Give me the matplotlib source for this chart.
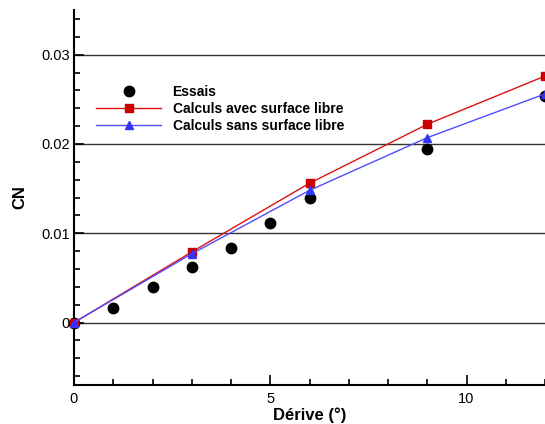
import numpy as np
import matplotlib
matplotlib.use("Agg")
import matplotlib.pyplot as plt
from matplotlib.ticker import MultipleLocator

plt.rcParams['font.family'] = ['Liberation Sans', 'DejaVu Sans']

# measured normal force coefficient vs drift angle
derive_essais = [0, 1, 2, 3, 4, 5, 6, 9, 12]
cn_essais = [0.0, 0.00157, 0.0040, 0.0062, 0.0084, 0.0112, 0.0139, 0.0194, 0.0254]

# computed values, with and without free surface
derive_calc = [0, 3, 6, 9, 12]
cn_avec = [0.0, 0.0079, 0.0156, 0.0222, 0.0276]
cn_sans = [0.0, 0.0077, 0.0148, 0.0207, 0.0256]

fig = plt.figure(figsize=(5.45, 4.24), dpi=100)
ax = fig.add_axes([74/545, 39/424, 471/545, 375/424])

for yv in [0.0, 0.01, 0.02, 0.03]:
    ax.axhline(yv, color='#333333', lw=1.0, zorder=1)

ax.plot(derive_essais, cn_essais, 'o', color='black', ms=7.5, ls='none',
        label='Essais', zorder=3, clip_on=False)
ax.plot(derive_calc, cn_avec, '-s', color='#dd1111', mfc='#cc0000', mec='#cc0000',
        ms=5.5, lw=1.0, label='Calculs avec surface libre', zorder=4, clip_on=False)
ax.plot(derive_calc, cn_sans, '-^', color='#4d4dff', mfc='#3333ff', mec='#3333ff',
        ms=6, lw=1.0, label='Calculs sans surface libre', zorder=4, clip_on=False)

ax.set_xlim(0, 12)
ax.set_ylim(-0.007, 0.035)
ax.xaxis.set_major_locator(MultipleLocator(5))
ax.xaxis.set_minor_locator(MultipleLocator(1))
ax.yaxis.set_major_locator(MultipleLocator(0.01))
ax.yaxis.set_minor_locator(MultipleLocator(0.002))
ax.set_yticks([0, 0.01, 0.02, 0.03])
ax.set_yticklabels(['0', '0.01', '0.02', '0.03'])

ax.tick_params(which='both', direction='in', width=1.2, labelsize=10.5)
ax.tick_params(which='major', length=7, pad=3)
ax.tick_params(which='minor', length=4)
ax.tick_params(axis='x', which='major', pad=5)

for side in ['top', 'right']:
    ax.spines[side].set_visible(False)
for side in ['left', 'bottom']:
    ax.spines[side].set_linewidth(1.5)

ax.set_xlabel('Dérive (°)', fontsize=12, fontweight='bold', labelpad=1)
ax.set_ylabel('CN', fontsize=12, fontweight='bold', labelpad=10)

ax.legend(loc='upper left', bbox_to_anchor=(0.047, 0.80), frameon=False,
          borderpad=0, borderaxespad=0, handlelength=4.7, handletextpad=0.8,
          labelspacing=0.22, prop={'weight': 'bold', 'size': 10})

fig.savefig('out.png', dpi=100)
